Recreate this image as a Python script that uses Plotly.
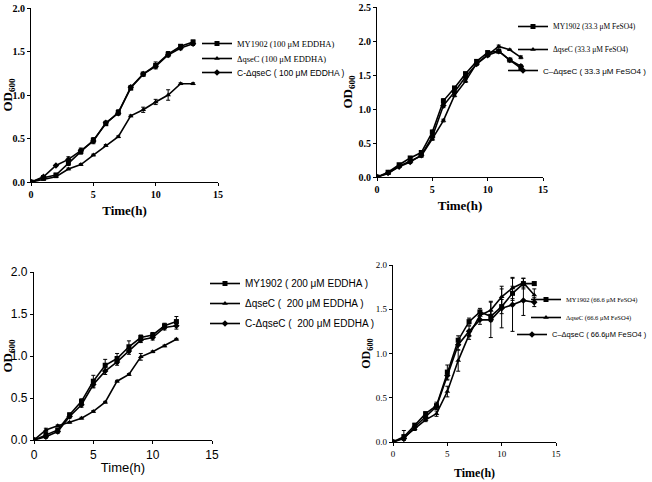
import plotly.graph_objects as go

t13 = list(range(14))
t12 = list(range(13))

# Panel A: 100 uM EDDHA
a_my = [0, 0.05, 0.08, 0.22, 0.35, 0.48, 0.67, 0.80, 1.08, 1.24, 1.34, 1.47, 1.56, 1.61]
a_my_err = [0, 0.01, 0.02, 0.03, 0.03, 0.03, 0.02, 0.03, 0.02, 0.02, 0.04, 0.03, 0.02, 0.02]
a_dq = [0, 0.03, 0.06, 0.15, 0.20, 0.31, 0.42, 0.52, 0.76, 0.83, 0.92, 1.00, 1.13, 1.13]
a_dq_err = [0, 0.01, 0.01, 0.01, 0.01, 0.01, 0.01, 0.01, 0.01, 0.03, 0.03, 0.06, 0.01, 0.01]
a_c = [0, 0.06, 0.19, 0.26, 0.36, 0.47, 0.68, 0.79, 1.09, 1.24, 1.33, 1.46, 1.54, 1.59]
a_c_err = [0, 0.01, 0.01, 0.03, 0.03, 0.03, 0.02, 0.02, 0.02, 0.02, 0.02, 0.02, 0.02, 0.02]

# Panel B: 33.3 uM FeSO4
b_my = [0, 0.07, 0.18, 0.28, 0.36, 0.66, 1.12, 1.31, 1.52, 1.70, 1.83, 1.85, 1.72, 1.60]
b_my_err = [0, 0.01, 0.02, 0.02, 0.02, 0.03, 0.03, 0.02, 0.02, 0.02, 0.02, 0.02, 0.02, 0.03]
b_dq = [0, 0.05, 0.16, 0.24, 0.31, 0.56, 0.83, 1.20, 1.41, 1.67, 1.79, 1.92, 1.87, 1.76]
b_dq_err = [0, 0.01, 0.01, 0.02, 0.02, 0.02, 0.02, 0.02, 0.02, 0.02, 0.02, 0.02, 0.01, 0.02]
b_c = [0, 0.06, 0.15, 0.22, 0.32, 0.59, 1.05, 1.25, 1.47, 1.66, 1.79, 1.85, 1.72, 1.63]
b_c_err = [0, 0.01, 0.01, 0.02, 0.02, 0.02, 0.03, 0.02, 0.02, 0.02, 0.02, 0.02, 0.02, 0.02]

# Panel C: 200 uM EDDHA
c_my = [0, 0.06, 0.12, 0.30, 0.46, 0.70, 0.89, 0.97, 1.11, 1.22, 1.25, 1.36, 1.41]
c_my_err = [0, 0.03, 0.02, 0.02, 0.03, 0.07, 0.07, 0.06, 0.07, 0.03, 0.03, 0.03, 0.06]
c_dq = [0, 0.12, 0.17, 0.21, 0.26, 0.34, 0.45, 0.70, 0.78, 0.99, 1.05, 1.12, 1.20]
c_dq_err = [0, 0.02, 0.01, 0.01, 0.01, 0.01, 0.01, 0.01, 0.01, 0.04, 0.01, 0.01, 0.01]
c_c = [0, 0.04, 0.10, 0.28, 0.42, 0.66, 0.82, 0.93, 1.06, 1.19, 1.22, 1.34, 1.36]
c_c_err = [0, 0.02, 0.02, 0.02, 0.03, 0.04, 0.04, 0.04, 0.04, 0.03, 0.03, 0.03, 0.04]

# Panel D: 66.6 uM FeSO4
d_my = [0, 0.06, 0.19, 0.32, 0.41, 0.79, 1.15, 1.36, 1.47, 1.42, 1.53, 1.68, 1.79, 1.79]
d_my_err = [0, 0.07, 0.02, 0.02, 0.04, 0.08, 0.05, 0.04, 0.04, 0.06, 0.08, 0.08, 0.06, 0.02]
d_dq = [0, 0.05, 0.15, 0.25, 0.32, 0.57, 0.92, 1.21, 1.43, 1.49, 1.64, 1.74, 1.80, 1.66]
d_dq_err = [0, 0.03, 0.02, 0.02, 0.03, 0.06, 0.12, 0.05, 0.05, 0.10, 0.12, 0.12, 0.05, 0.07]
d_c = [0, 0.04, 0.17, 0.28, 0.40, 0.75, 1.10, 1.25, 1.38, 1.38, 1.51, 1.55, 1.60, 1.58]
d_c_err = [0, 0.02, 0.02, 0.02, 0.03, 0.05, 0.06, 0.06, 0.05, 0.20, 0.22, 0.30, 0.17, 0.05]

names_a = ["MY1902 (100 μM EDDHA)", "ΔqseC (100 μM EDDHA)", "C-ΔqseC ( 100 μM EDDHA )"]
names_b = ["MY1902 (33.3 μM FeSO4)", "ΔqseC (33.3 μM FeSO4)", "C–ΔqseC ( 33.3 μM FeSO4 )"]
names_c = ["MY1902 ( 200 μM EDDHA )", "ΔqseC (  200 μM EDDHA )", "C-ΔqseC (  200 μM EDDHA )"]
names_d = ["MY1902 (66.6 μM FeSO4)", "ΔqseC (66.6 μM FeSO4)", "C–ΔqseC ( 66.6μM FeSO4 )"]

symbols = ["square", "triangle-up", "diamond"]

W, H = 652, 482

serif = "Liberation Serif"
sansf = "Liberation Sans"
# legend entry placement: (text start x px, legend top y px, font family, size, anchor right?)
legend_pos = [
    (237, 29, serif, 8.5, False), (237, 44, serif, 8.5, False), (237, 58, sansf, 8.5, False),
    (553, 12, serif, 7.5, False), (553, 35, serif, 7.5, False), (553, 56, sansf, 8, True),
    (245, 269, sansf, 10, False), (245, 289, sansf, 10, False), (245, 309, sansf, 10, False),
    (566, 285, serif, 6.5, False), (566, 303, serif, 6.5, False), (566, 320, sansf, 7.5, True),
]

fig = go.Figure()

panels = [
    (t13, [(a_my, a_my_err), (a_dq, a_dq_err), (a_c, a_c_err)], names_a, "x", "y"),
    (t13, [(b_my, b_my_err), (b_dq, b_dq_err), (b_c, b_c_err)], names_b, "x2", "y2"),
    (t12, [(c_my, c_my_err), (c_dq, c_dq_err), (c_c, c_c_err)], names_c, "x3", "y3"),
    (t13, [(d_my, d_my_err), (d_dq, d_dq_err), (d_c, d_c_err)], names_d, "x4", "y4"),
]

k = 0
legend_layouts = {}
for t, series, names, xa, ya in panels:
    for (vals, err), nm, sym in zip(series, names, symbols):
        lname = "legend" if k == 0 else f"legend{k + 1}"
        fig.add_trace(go.Scatter(
            x=t, y=vals, name=nm, mode="lines+markers", showlegend=True,
            xaxis=xa, yaxis=ya, legend=lname,
            line=dict(color="black", width=1.6),
            marker=dict(symbol=sym, size=5, color="black"),
            error_y=dict(type="data", array=err, visible=True, color="black", thickness=1, width=2),
        ))
        tx, ty, fam, fs, right = legend_pos[k]
        if right:
            lx, xanc = 1.0, "right"
        else:
            lx, xanc = (tx - 40) / W, "left"
        legend_layouts[lname] = dict(
            x=lx, y=1 - ty / H, xanchor=xanc, yanchor="top",
            bgcolor="rgba(0,0,0,0)", borderwidth=0, itemwidth=30,
            font=dict(family=fam, size=fs, color="black"),
        )
        k += 1

serif_b = dict(family=serif, size=10, color="black", weight="bold")
serif_small = dict(family=serif, size=9, color="black")
sans = dict(family=sansf, size=12, color="black")


def xax(domain, anchor, tf, title_font, standoff):
    return dict(domain=domain, anchor=anchor, range=[0, 15], tickvals=[0, 5, 10, 15],
                showline=True, linecolor="black", linewidth=1.2, ticks="outside", ticklen=3,
                tickcolor="black", showgrid=False, zeroline=False, tickfont=tf, automargin=False,
                title=dict(text="Time(h)", font=title_font, standoff=standoff))


def yax(domain, anchor, rng, tv, tt, tf, title_font, standoff):
    return dict(domain=domain, anchor=anchor, range=rng, tickvals=tv, ticktext=tt,
                showline=True, linecolor="black", linewidth=1.2, ticks="outside", ticklen=3,
                tickcolor="black", showgrid=False, zeroline=False, tickfont=tf, automargin=False,
                title=dict(text="OD<sub>600</sub>", font=title_font, standoff=standoff))


tfont_serif = dict(family=serif, size=13, color="black", weight="bold")
tfont_serif_s = dict(family=serif, size=12, color="black", weight="bold")
tfont_sans = dict(family=sansf, size=13, color="black")

y2 = [0, 0.5, 1.0, 1.5, 2.0]
y2t = ["0.0", "0.5", "1.0", "1.5", "2.0"]
y25 = [0, 0.5, 1.0, 1.5, 2.0, 2.5]
y25t = ["0.0", "0.5", "1.0", "1.5", "2.0", "2.5"]


def dx(a, b):
    return [a / W, b / W]


def dy(top, bottom):
    return [1 - bottom / H, 1 - top / H]


fig.update_layout(
    width=W, height=H,
    margin=dict(l=0, r=0, t=0, b=0),
    paper_bgcolor="white", plot_bgcolor="white",
    showlegend=True,
    xaxis=xax(dx(31, 218), "y", serif_b, tfont_serif, 6),
    yaxis=yax(dy(8, 182), "x", [0, 2], y2, y2t, serif_b, tfont_serif, 2),
    xaxis2=xax(dx(377, 543), "y2", serif_b, tfont_serif, 6),
    yaxis2=yax(dy(7, 177), "x2", [0, 2.5], y25, y25t, serif_b, tfont_serif, 2),
    xaxis3=xax(dx(34, 212), "y3", sans, tfont_sans, 2),
    yaxis3=yax(dy(272, 440), "x3", [0, 2], y2, y2t, sans, tfont_serif, 2),
    xaxis4=xax(dx(393, 556), "y4", serif_small, tfont_serif_s, 10),
    yaxis4=yax(dy(265, 442), "x4", [0, 2], y2, y2t, serif_small, tfont_serif_s, 2),
    **legend_layouts,
)

fig.write_html("out.html", config={"displayModeBar": False},
               post_script="document.body.style.margin='0';")
